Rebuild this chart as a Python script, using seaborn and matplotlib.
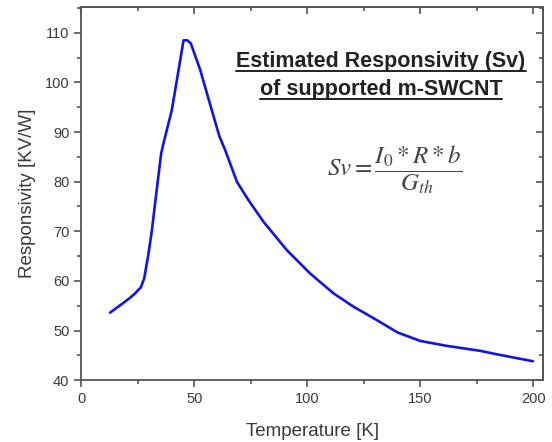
import numpy as np
import pandas as pd
import seaborn as sns
import matplotlib.pyplot as plt
from matplotlib.ticker import MultipleLocator
from matplotlib.lines import Line2D

sns.set_style("ticks")
plt.rcParams["font.family"] = ["Liberation Sans", "DejaVu Sans"]
plt.rcParams["mathtext.fontset"] = "stix"

# values
temperature = [12.8, 17.3, 21.4, 23.9, 26.4, 27.9, 29.8, 31.3, 32.7, 35.4, 36.4,
               40.1, 43.1, 45.3, 47.0, 48.5, 52.7, 57.8, 61.2, 63.7, 68.9, 74.0,
               80.7, 91.0, 101.3, 111.6, 120.5, 130.8, 140.0, 150.0, 161.8, 176.6,
               184.0, 199.9]
responsivity = [53.6, 55.1, 56.5, 57.5, 58.7, 60.5, 65.5, 70.2, 75.6, 85.7, 87.7,
                94.4, 102.5, 108.5, 108.5, 107.9, 102.5, 94.4, 89.1, 86.4, 80.0, 76.3,
                71.9, 66.2, 61.5, 57.5, 54.8, 52.1, 49.6, 47.9, 46.9, 45.9,
                45.2, 43.8]

title_lines = ["Estimated Responsivity (Sv)", "of supported m-SWCNT"]
equation = r"$Sv = \dfrac{I_0 * R * b}{G_{th}}$"

df = pd.DataFrame({"T": temperature, "Sv": responsivity})

fig = plt.figure(figsize=(5.52, 4.42), dpi=100)
ax = fig.add_axes([0.147, 0.140, 0.837, 0.844])

sns.lineplot(data=df, x="T", y="Sv", ax=ax, color="#1414e0", linewidth=1.9, sort=False)

ax.set_xlim(0, 204.4)
ax.set_ylim(40, 115.2)
ax.xaxis.set_major_locator(MultipleLocator(50))
ax.xaxis.set_minor_locator(MultipleLocator(25))
ax.yaxis.set_major_locator(MultipleLocator(10))
ax.yaxis.set_minor_locator(MultipleLocator(5))

grey = "#3a3a3a"
for s in ax.spines.values():
    s.set_color("#555555")
    s.set_linewidth(1.3)
ax.tick_params(which="both", direction="out", colors="#555555", labelcolor=grey,
               labelsize=10.5, width=1.2)
ax.tick_params(which="major", length=5)
ax.tick_params(which="minor", length=3)

# inward ticks on the top and right frame
top = ax.secondary_xaxis("top")
top.xaxis.set_major_locator(MultipleLocator(50))
top.xaxis.set_minor_locator(MultipleLocator(25))
right = ax.secondary_yaxis("right")
right.yaxis.set_major_locator(MultipleLocator(10))
right.yaxis.set_minor_locator(MultipleLocator(5))
for sec in (top, right):
    sec.tick_params(which="both", direction="in", colors="#555555", width=1.2,
                    labeltop=False, labelright=False)
    sec.tick_params(which="major", length=5)
    sec.tick_params(which="minor", length=3)
    for s in sec.spines.values():
        s.set_color("#555555")
        s.set_linewidth(1.3)

ax.set_xlabel("Temperature [K]", fontsize=13.5, color=grey, labelpad=12)
ax.set_ylabel("Responsivity [KV/W]", fontsize=13.5, color=grey, labelpad=6)

# underlined title inside the plot
texts = []
for i, line in enumerate(title_lines):
    t = fig.text(381 / 552, 1 - (61 + 28 * i) / 442, line, ha="center", va="center",
                 fontsize=15.5, fontweight="bold", color="#222222")
    texts.append(t)

fig.text(395 / 552, 1 - 170 / 442, equation, ha="center", va="center",
         fontsize=18, color="#444444")

fig.canvas.draw()
inv = fig.transFigure.inverted()
for t in texts:
    bb = t.get_window_extent().transformed(inv)
    fig.add_artist(Line2D([bb.x0, bb.x1], [bb.y0 + 0.002, bb.y0 + 0.002],
                          transform=fig.transFigure, color="#222222", linewidth=1.4))

fig.savefig("out.png", dpi=100)
